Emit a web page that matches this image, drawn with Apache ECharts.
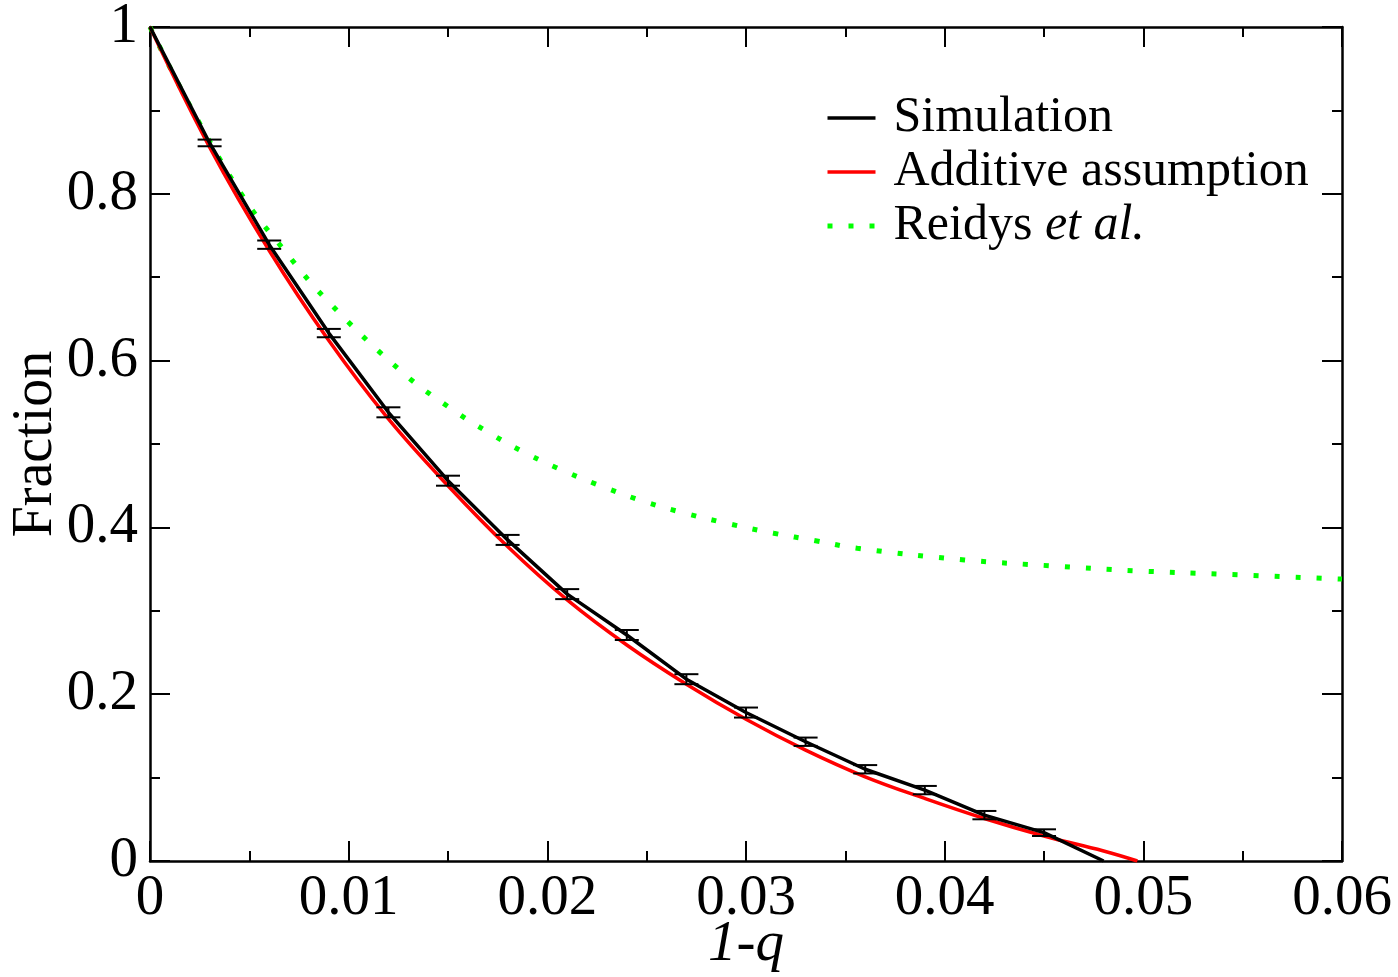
<!DOCTYPE html>
<html>
<head>
<meta charset="utf-8">
<script src="https://cdn.jsdelivr.net/npm/echarts@6/dist/echarts.min.js"></script>
<style>html,body{margin:0;padding:0;background:#fff}#c{width:1398px;height:977px}</style>
</head>
<body>
<div id="c"></div>
<script>
// Simulation (with error bars)
const simX   = [0, 0.003, 0.006, 0.009, 0.012, 0.015, 0.018, 0.021, 0.024, 0.027, 0.030, 0.033, 0.036, 0.039, 0.042, 0.045, 0.048];
const simY   = [1.0, 0.861, 0.739, 0.633, 0.538, 0.456, 0.385, 0.320, 0.271, 0.218, 0.178, 0.143, 0.110, 0.085, 0.055, 0.034, 0.0];
const simErr = [0, 0.004, 0.005, 0.005, 0.006, 0.006, 0.006, 0.006, 0.006, 0.006, 0.006, 0.005, 0.005, 0.005, 0.005, 0.004, 0];
// Additive assumption
const addX = [0, 0.003, 0.006, 0.009, 0.012, 0.015, 0.018, 0.021, 0.024, 0.027, 0.030, 0.033, 0.036, 0.039, 0.042, 0.045, 0.048, 0.0497];
const addY = [1.0, 0.856, 0.732, 0.624, 0.530, 0.450, 0.377, 0.313, 0.259, 0.212, 0.170, 0.133, 0.101, 0.075, 0.051, 0.030, 0.012, 0.0];
// Reidys et al.
const reiX = [0, 0.002, 0.0047, 0.0067, 0.0088, 0.0127, 0.0153, 0.0171, 0.019, 0.021, 0.023, 0.025, 0.0271, 0.0292, 0.0314, 0.0335, 0.0356, 0.041, 0.0453, 0.0496, 0.0539, 0.060];
const reiY = [1.0, 0.906, 0.796, 0.734, 0.675, 0.586, 0.540, 0.513, 0.488, 0.466, 0.447, 0.430, 0.416, 0.404, 0.393, 0.384, 0.375, 0.361, 0.354, 0.348, 0.344, 0.338];
// Axis ticks
const xTicks = ['0', '0.01', '0.02', '0.03', '0.04', '0.05', '0.06'];
const yTicks = ['0', '0.2', '0.4', '0.6', '0.8', '1'];
const names = ['Simulation', 'Additive assumption', 'Reidys et al.'];

const FONT = 'Liberation Serif';
const zip = (a, b) => a.map((v, i) => [v, b[i]]);
const errData = simX.map((x, i) => [x, simY[i], simErr[i]]).filter(d => d[2] > 0);

const chart = echarts.init(document.getElementById('c'), null, {renderer: 'canvas'});
const axisCommon = () => ({
  axisLine: {onZero: false, lineStyle: {color: '#000', width: 2.5}},
  axisTick: {inside: true, length: 20, lineStyle: {color: '#000', width: 2}},
  minorTick: {show: true, splitNumber: 2, length: 10, lineStyle: {color: '#000', width: 2}},
  splitLine: {show: false}
});
chart.setOption({
  animation: false,
  backgroundColor: '#fff',
  grid: {left: 150, right: 56, top: 27, bottom: 116, containLabel: false, outerBoundsMode: 'none'},
  xAxis: [
    Object.assign({
      type: 'value', min: 0, max: 0.06, interval: 0.01, position: 'bottom',
      name: '1-q', nameLocation: 'middle', nameGap: 56, nameMoveOverlap: false,
      nameTextStyle: {fontFamily: FONT, fontSize: 57, fontStyle: 'italic', color: '#000'},
      axisLabel: {fontFamily: FONT, fontSize: 57, color: '#000', margin: 10,
        formatter: v => xTicks[Math.round(v / 0.01)]}
    }, axisCommon()),
    Object.assign({
      type: 'value', min: 0, max: 0.06, interval: 0.01, position: 'top',
      axisLabel: {show: false}
    }, axisCommon())
  ],
  yAxis: [
    Object.assign({
      type: 'value', min: 0, max: 1, interval: 0.2, position: 'left',
      name: 'Fraction', nameLocation: 'middle', nameGap: 86, nameMoveOverlap: false,
      nameTextStyle: {fontFamily: FONT, fontSize: 56, color: '#000'},
      axisLabel: {fontFamily: FONT, fontSize: 57, color: '#000', margin: 12,
        formatter: v => yTicks[Math.round(v / 0.2)]}
    }, axisCommon()),
    Object.assign({
      type: 'value', min: 0, max: 1, interval: 0.2, position: 'right',
      axisLabel: {show: false}
    }, axisCommon())
  ],
  legend: {
    left: 820, top: 86, orient: 'vertical',
    itemWidth: 48, itemHeight: 20, itemGap: 0,
    data: names,
    itemStyle: {opacity: 0},
    lineStyle: {width: 'inherit'},
    textStyle: {fontFamily: FONT, fontSize: 50, color: '#000', lineHeight: 54, padding: [0, 0, 0, 13],
      rich: {i: {fontFamily: FONT, fontSize: 50, fontStyle: 'italic', color: '#000', lineHeight: 54}}},
    formatter: n => n === 'Reidys et al.' ? 'Reidys {i|et al.}' : n
  },
  series: [
    {
      name: names[2], type: 'line', data: zip(reiX, reiY), smooth: 0.4,
      symbol: 'none', showSymbol: false, z: 2,
      lineStyle: {color: '#00ff00', width: 5, type: [5, 16], cap: 'butt'},
      itemStyle: {color: '#00ff00'}
    },
    {
      name: names[1], type: 'line', data: zip(addX, addY), smooth: 0.4,
      symbol: 'none', showSymbol: false, z: 3,
      lineStyle: {color: '#ff0000', width: 3.5},
      itemStyle: {color: '#ff0000'}
    },
    {
      name: names[0], type: 'line', data: zip(simX, simY), smooth: false,
      symbol: 'none', showSymbol: false, z: 4,
      lineStyle: {color: '#000', width: 3.5},
      itemStyle: {color: '#000'}
    },
    {
      type: 'custom', z: 5, data: errData,
      renderItem: (params, api) => {
        const x = api.value(0), y = api.value(1), e = api.value(2);
        const lo = api.coord([x, y - e]);
        const hi = api.coord([x, y + e]);
        const hw = 12;
        const st = {stroke: '#000', lineWidth: 2};
        return {type: 'group', children: [
          {type: 'line', shape: {x1: lo[0], y1: lo[1], x2: hi[0], y2: hi[1]}, style: st},
          {type: 'line', shape: {x1: lo[0] - hw, y1: lo[1], x2: lo[0] + hw, y2: lo[1]}, style: st},
          {type: 'line', shape: {x1: hi[0] - hw, y1: hi[1], x2: hi[0] + hw, y2: hi[1]}, style: st}
        ]};
      }
    }
  ]
});
</script>
</body>
</html>
